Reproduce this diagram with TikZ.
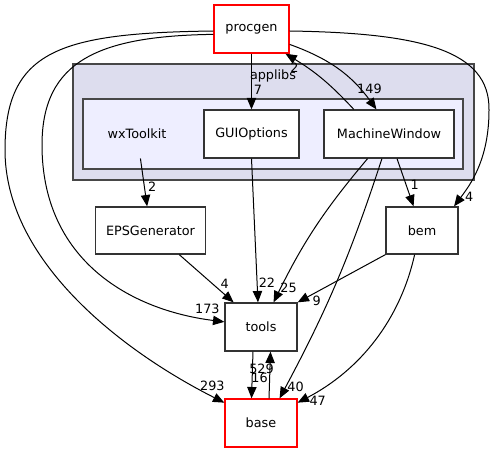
\documentclass[tikz,border=0pt]{standalone}
\usepackage{fontspec}
\setmainfont{DejaVu Sans}
\usetikzlibrary{arrows.meta, shapes}
\definecolor{outerfill}{RGB}{221,221,238}
\definecolor{innerfill}{RGB}{238,238,255}

\begin{document}
\begin{tikzpicture}[->, >={Triangle[length=8.5pt,width=7pt]}, line width=0.75pt,
  x=0.75pt, y=-0.75pt, font=\fontsize{9.6}{11}\selectfont,
  dir/.style={draw=black!80, fill=white, line width=1pt, minimum height=36pt, inner sep=0pt},
  topdir/.style={dir, draw=red},
  group/.style={draw=black!72, line width=1.5pt, inner sep=0pt},
  num/.style={pos=1, anchor=center, inner sep=0pt}]
\fill[white] (0,0) rectangle (495,452);
\useasboundingbox (0,0) rectangle (495,452);
\node[group, fill=outerfill, minimum width=300.75pt, minimum height=87pt] (9) at (273.5,122) {};
\node[group, fill=innerfill, minimum width=285pt, minimum height=52.5pt] (10) at (273,134) {};
\node (11) at (273,76) {applibs};
\node[topdir, minimum width=56.25pt] (1) at (251.5,29) {procgen};
\node[dir, minimum width=71.25pt] (2) at (251.5,134) {GUIOptions};
\node[dir, minimum width=97.5pt] (3) at (389,134) {MachineWindow};
\node[minimum width=82.5pt, minimum height=36pt, inner sep=0pt] (4) at (137,134) {wxToolkit};
\node[dir, minimum width=82.5pt, minimum height=35.25pt] (5) at (150.5,230.5) {EPSGenerator};
\node[dir, minimum width=54pt, minimum height=35.25pt] (6) at (422,230.5) {bem};
\node[dir, minimum width=54pt] (7) at (261,327) {tools};
\node[topdir, minimum width=54pt] (8) at (261,423) {base};

\path (1.south) edge node[num, shift={(6.5,-19)}] {7} (2.north)
      (3.145) edge[bend right=8] node[num, shift={(9,14)}] {2} (1.-36)
      (1.-22) edge[bend left=17] node[num, shift={(-7,-20)}] {149} (3.117)
      (4) edge node[num, shift={(5,-20)}] {2} (5)
      (3.-72) edge node[num, shift={(1,-21)}] {1} (6)
      (5.-40.5) edge node[num, shift={(-9,-19)}] {4} (7.138)
      (2.south) edge node[num, shift={(9,-20)}] {22} (7.97)
      (3.-131) edge[bend right=7] node[num, shift={(15,-14)}] {25} (7.63)
      (6.south west) edge node[num, shift={(19,-1)}] {9} (7.north east)
      (7.-108) edge node[num, shift={(8,-20)}] {16} (8.111)
      (8.72) edge node[num, shift={(-9,17)}] {529} (7.-69)
      (3.-106) edge[bend left=5] node[num, shift={(16,-11)}] {40} (8.53);
\draw (1.-3) .. controls (420,33) and (490,50) .. (489,110)
      .. controls (489,160) and (470,185) .. (6.37) node[num, shift={(15,-9)}] {4};
\draw (1.188) .. controls (100,36) and (42,60) .. (42,145)
      .. controls (42,260) and (130,310) .. (7.172) node[num, shift={(-17,-13)}] {173};
\draw (1.183) .. controls (60,33) and (5,50) .. (5,150)
      .. controls (5,260) and (120,350) .. (8.151) node[num, shift={(-12,-17)}] {293};
\draw (6.-107) .. controls (400,320) and (360,370) .. (8.29) node[num, shift={(20,-2)}] {47};
\end{tikzpicture}
\end{document}
